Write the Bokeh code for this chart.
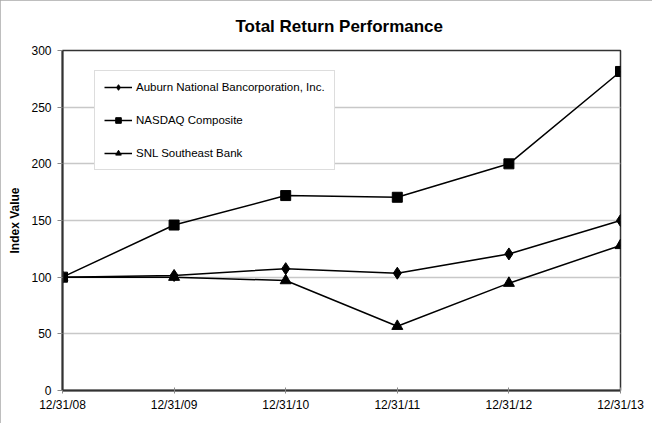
from bokeh.plotting import figure
from bokeh.models import FixedTicker, Legend, LegendItem, Range1d
from bokeh.embed import file_html
from bokeh.resources import INLINE

dates = ["12/31/08", "12/31/09", "12/31/10", "12/31/11", "12/31/12", "12/31/13"]
auburn = [100, 101.5, 107.5, 103.5, 120.5, 150]
nasdaq = [100, 146, 172, 170.5, 200, 281.5]
snl = [100, 100, 97, 56.7, 94.7, 128]
y_ticks = [0, 50, 100, 150, 200, 250, 300]

xs = list(range(len(dates)))
FONT = "Liberation Sans"

p = figure(width=652, height=423, output_backend="svg", toolbar_location=None,
           x_range=Range1d(0, len(dates) - 1), y_range=Range1d(0, 300),
           min_border_left=62, min_border_right=32, min_border_top=50, min_border_bottom=33)
p.styles = {"outline": "1px solid #a8a8a8", "outline-offset": "-1px"}

p.title.text = "Total Return Performance"
p.title.align = "left"
p.title.text_font = FONT
p.title.text_font_size = "17px"
p.title.text_font_style = "bold"
p.title.text_color = "black"
p.title.offset = 173
p.title.standoff = 29

p.xgrid.grid_line_color = None
p.ygrid.grid_line_color = "#c8c8c8"
p.ygrid.grid_line_width = 1.5
p.ygrid.ticker = FixedTicker(ticks=y_ticks)

p.outline_line_color = "#333333"
p.outline_line_width = 1.5

p.xaxis.ticker = FixedTicker(ticks=xs)
p.xaxis.major_label_overrides = {i: d for i, d in enumerate(dates)}
p.yaxis.ticker = FixedTicker(ticks=y_ticks)
for ax in (p.xaxis, p.yaxis):
    ax.axis_line_color = "#333333"
    ax.axis_line_width = 2
    ax.major_tick_line_color = "#888888"
    ax.minor_tick_line_color = None
    ax.major_label_text_font = FONT
    ax.major_label_text_font_size = "12px"
    ax.major_label_text_color = "black"
p.xaxis.major_tick_in = 3
p.xaxis.major_tick_out = 3
p.xaxis.major_label_standoff = 4
p.yaxis.major_tick_in = 0
p.yaxis.major_tick_out = 5
p.yaxis.major_label_standoff = 6

p.yaxis.axis_label = "Index Value"
p.yaxis.axis_label_text_font = FONT
p.yaxis.axis_label_text_font_size = "12px"
p.yaxis.axis_label_text_font_style = "bold"
p.yaxis.axis_label_text_color = "black"
p.yaxis.axis_label_standoff = 6

lw = 1.5
l1 = p.line(xs, auburn, line_color="black", line_width=lw)
m1 = p.scatter(xs, auburn, marker="diamond", size=12, color="black")
l2 = p.line(xs, nasdaq, line_color="black", line_width=lw)
m2 = p.scatter(xs, nasdaq, marker="square", size=10, color="black")
l3 = p.line(xs, snl, line_color="black", line_width=lw)
m3 = p.scatter(xs, snl, marker="triangle", size=11, color="black")

legend = Legend(items=[
    LegendItem(label="Auburn National Bancorporation, Inc.", renderers=[l1, m1]),
    LegendItem(label="NASDAQ Composite", renderers=[l2, m2]),
    LegendItem(label="SNL Southeast Bank", renderers=[l3, m3]),
], location=(32, 220))
legend.label_text_font = FONT
legend.label_text_font_size = "11.5px"
legend.label_text_color = "black"
legend.glyph_width = 28
legend.glyph_height = 14
legend.label_height = 14
legend.spacing = 19
legend.padding = 9
legend.margin = 0
legend.label_standoff = 4
legend.border_line_color = "#bbbbbb"
legend.border_line_width = 1
legend.background_fill_color = "white"
legend.background_fill_alpha = 1
p.add_layout(legend)

open("out.html", "w").write(file_html(p, INLINE))
